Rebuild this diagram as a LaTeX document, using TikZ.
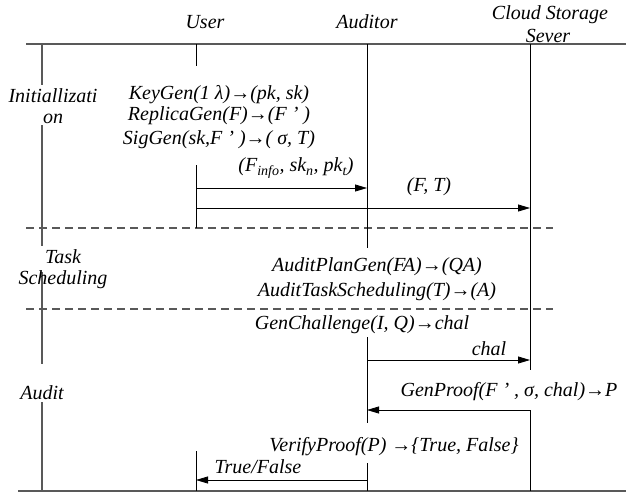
\documentclass[tikz,border=0pt]{standalone}
\usepackage{fontspec}
\setmainfont{Liberation Serif}
\usetikzlibrary{arrows.meta}
\begin{document}
\begin{tikzpicture}[x=1pt,y=-1pt,
 lbl/.style={font=\itshape\fontsize{20}{21}\selectfont, inner sep=0pt, align=center},
 life/.style={line width=0.8pt, black},
 frame/.style={line width=1.4pt, black!65},
 sepline/.style={dash pattern=on 8pt off 5pt, line width=1.3pt, black!65},
 msg/.style={line width=0.8pt, -{Triangle[length=12pt,width=7pt]}}]
\useasboundingbox (0,0) rectangle (626,493);
% frame lines
\coordinate (tl) at (26,44); \coordinate (tr) at (626,44);
\coordinate (bl) at (18,491); \coordinate (br) at (626,491);
\draw[frame] (tl) -- (tr);
\draw[frame] (bl) -- (br);
% phase separators
\coordinate (d1l) at (26,228); \coordinate (d1r) at (553,228);
\coordinate (d2l) at (26,309); \coordinate (d2r) at (553,309);
\draw[sepline] (d1l) -- (d1r);
\draw[sepline] (d2l) -- (d2r);
% left phase line
\draw[frame] (42,44) -- (42,85) (42,125) -- (42,246) (42,272) -- (42,364) (42,402) -- (42,491);
% lifelines
\draw[life] (196,44) -- (196,66) (196,165) -- (196,228) (196,451) -- (196,491);
\draw[life] (367,44) -- (367,248) (367,337) -- (367,423) (367,463) -- (367,491);
\draw[life] (530,44) -- (530,370) (530,410) -- (530,491);
% headers
\node[lbl] (huser) at (205,22) {User};
\node[lbl] (haud) at (367,22) {Auditor};
\node[lbl] (hcloud) at (550,15) {Cloud Storage};
\node[lbl] (hsever) at (548,36) {Sever};
% phase labels
\node[lbl] (pinit) at (53,106) {Initiallizati\\on};
\node[lbl] (ptask) at (63,269) {Task\\Scheduling};
\node[lbl] (paudit) at (42,393) {Audit};
% initialization
\node[lbl] (t1) at (219,95) {KeyGen(1 λ)→(pk, sk)};
\node[lbl] (t2) at (219,116) {ReplicaGen(F)→(F ’ )};
\node[lbl] (t3) at (219,140) {SigGen(sk,F ’ )→( σ, T)};
\node[lbl] (t4) at (296,168) {(F\textsubscript{info}, sk\textsubscript{n}, pk\textsubscript{t})};
\node[lbl] (t5) at (429,187) {(F, T)};
\coordinate (u1) at (196,188); \coordinate (a1) at (367,188);
\coordinate (u2) at (196,208); \coordinate (c2) at (530,208);
\draw[msg] (u1) -- (a1);
\draw[msg] (u2) -- (c2);
% task scheduling
\node[lbl] (t6) at (377,267) {AuditPlanGen(FA)→(QA)};
\node[lbl] (t7) at (377,292) {AuditTaskScheduling(T)→(A)};
% audit
\node[lbl] (t8) at (362,325) {GenChallenge(I, Q)→chal};
\node[lbl] (t9) at (489,349) {chal};
\coordinate (a3) at (367,360); \coordinate (c3) at (530,360);
\draw[msg] (a3) -- (c3);
\node[lbl] (t10) at (509,392) {GenProof(F ’ , σ, chal)→P};
\coordinate (c4) at (530,410); \coordinate (a4) at (367,410);
\draw[msg] (c4) -- (a4);
\node[lbl] (t11) at (394,447) {VerifyProof(P) →\{True, False\}};
\node[lbl] (t12) at (258,467) {True/False};
\coordinate (a5) at (367,480); \coordinate (u5) at (196,480);
\draw[msg] (a5) -- (u5);
\end{tikzpicture}
\end{document}
